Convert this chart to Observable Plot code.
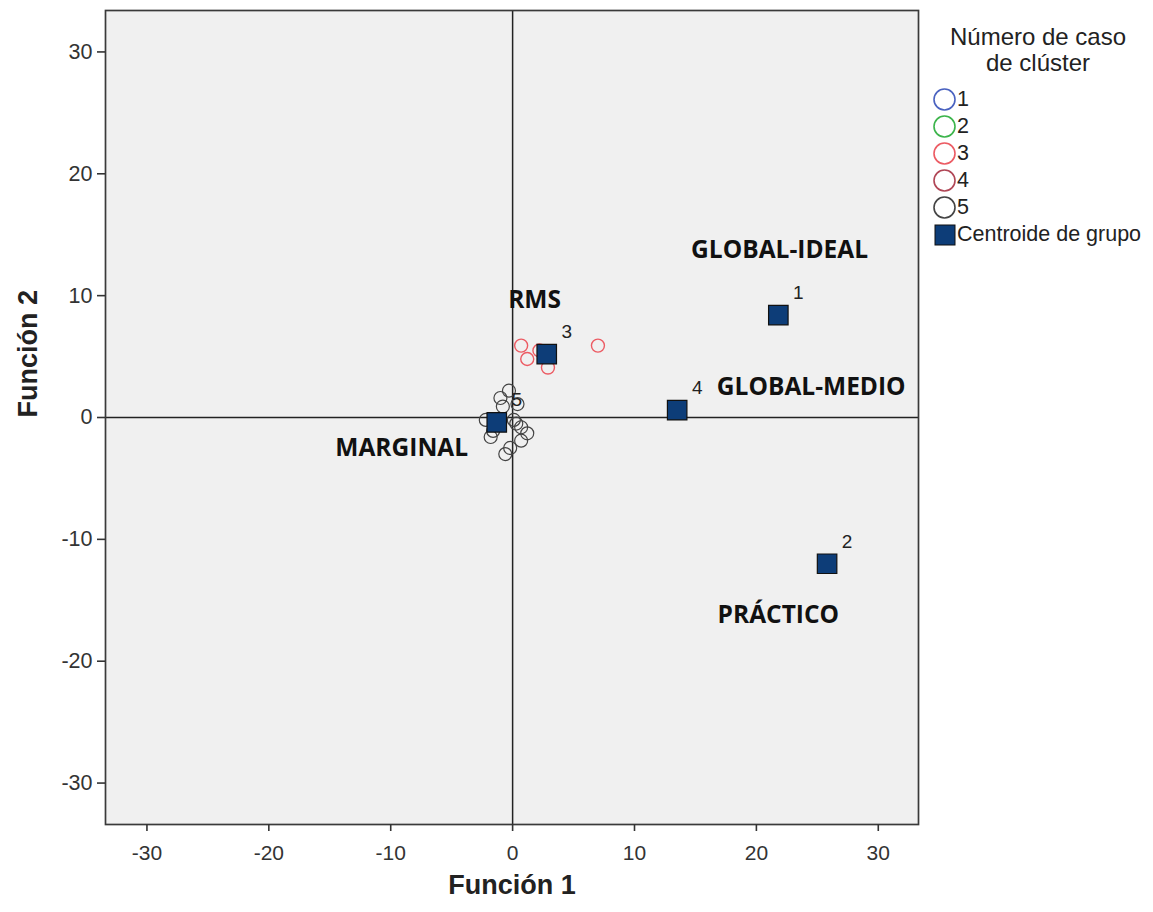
<!DOCTYPE html>
<html>
<head>
<meta charset="utf-8">
<script src="https://cdn.jsdelivr.net/npm/d3@7"></script>
<script src="https://cdn.jsdelivr.net/npm/@observablehq/plot@0.6"></script>
<style>
  body { margin: 0; background: white; }
  #wrap { position: relative; width: 1153px; height: 912px; }
  #legend { position: absolute; left: 932px; top: 24px; width: 221px; font-family: "Liberation Sans", Arial, sans-serif; color: #222; }
  #legend .title { text-align: center; font-size: 24px; line-height: 26px; width: 212px; }
  #legend .item { display: flex; align-items: center; height: 27px; font-size: 21.5px; white-space: nowrap; }
  #legend svg { margin-right: 0px; flex: none; }
</style>
</head>
<body>
<div id="wrap"><div id="legend"></div></div>
<script>
// Cluster 3 cases (red)
const c3x = [0.7, 1.2, 2.2, 2.9, 7.0];
const c3y = [5.9, 4.8, 5.5, 4.1, 5.9];
// Cluster 5 cases (gray)
const c5x = [-1.0, -0.3, 0.4, 0.1, 0.7, 1.2, 0.7, -0.2, -0.6, -1.8, -2.2, -1.6, -0.8, 0.3];
const c5y = [1.6, 2.2, 1.1, -0.2, -0.8, -1.3, -1.9, -2.5, -3.0, -1.6, -0.2, -1.1, 0.9, -0.5];
// Group centroids
const centId = ["1", "2", "3", "4", "5"];
const centX = [21.8, 25.8, 2.8, 13.5, -1.3];
const centY = [8.4, -12.0, 5.2, 0.6, -0.4];
// Group names
const groupName = ["GLOBAL-IDEAL", "PRÁCTICO", "RMS", "GLOBAL-MEDIO", "MARGINAL"];
const nameX = [21.9, 21.8, 1.8, 24.5, -9.1];
const nameY = [13.7, -16.2, 9.6, 2.5, -2.5];
// Ticks
const ticks = [-30, -20, -10, 0, 10, 20, 30];
// Legend
const legendLabels = ["1", "2", "3", "4", "5"];
const legendColors = ["#4a62c0", "#3cb44b", "#ec5b63", "#b04656", "#444444"];

const c3 = c3x.map((x, i) => ({x, y: c3y[i]}));
const c5 = c5x.map((x, i) => ({x, y: c5y[i]}));
const cent = centId.map((id, i) => ({id, x: centX[i], y: centY[i]}));
const names = groupName.map((t, i) => ({t, x: nameX[i], y: nameY[i]}));

const plot = Plot.plot({
  width: 1153,
  height: 912,
  marginLeft: 105,
  marginRight: 235,
  marginTop: 10,
  marginBottom: 88,
  style: {fontFamily: "'Liberation Sans', Arial, sans-serif", fontSize: "21px", color: "#333", background: "transparent"},
  x: {domain: [-33.4, 33.3], ticks: ticks, label: null},
  y: {domain: [-33.4, 33.4], ticks: ticks, label: null},
  marks: [
    Plot.frame({fill: "#f0f0f0"}),
    Plot.ruleX([0], {stroke: "#222", strokeWidth: 1.5}),
    Plot.ruleY([0], {stroke: "#222", strokeWidth: 1.5}),
    Plot.frame({stroke: "#3a3a3a", strokeWidth: 1.7}),
    Plot.axisX({ticks: ticks, tickFormat: d => String(d), tickSize: 7, tickPadding: 14, stroke: "#333", strokeWidth: 1.6, fontSize: 21, fill: "#333", label: null}),
    Plot.axisY({ticks: ticks, tickFormat: d => String(d), tickSize: 8, tickPadding: 5, stroke: "#333", strokeWidth: 1.6, fontSize: 21.5, fill: "#333", label: null}),
    Plot.dot(c5, {x: "x", y: "y", r: 6.5, stroke: "#444", strokeWidth: 1.2, fill: "none"}),
    Plot.dot(c3, {x: "x", y: "y", r: 6.5, stroke: "#ec5b63", strokeWidth: 1.4, fill: "none"}),
    Plot.dot(cent, {x: "x", y: "y", symbol: "square", r: 11, fill: "#0d3d78", stroke: "#111", strokeWidth: 1.2}),
    Plot.text(cent, {x: "x", y: "y", text: "id", dx: 20, dy: -22, fontSize: 19, fill: "#222"}),
    Plot.text(names, {x: "x", y: "y", text: "t", fontSize: 24.5, fontWeight: "bold", fill: "#111", fontFamily: "'Open Sans', sans-serif"}),
    Plot.text(["Función 1"], {frameAnchor: "bottom", dy: 69, fontSize: 27, fontWeight: "bold", fill: "#222"}),
    Plot.text(["Función 2"], {frameAnchor: "left", dx: -77, rotate: -90, fontSize: 27, fontWeight: "bold", fill: "#222"})
  ]
});
document.getElementById("wrap").prepend(plot);
plot.style.position = "absolute";
plot.style.left = "0px";
plot.style.top = "0px";

const lg = document.getElementById("legend");
lg.innerHTML = `<div class="title">Número de caso<br>de clúster</div><div style="height:10px"></div>` +
  legendLabels.map((l, i) => `<div class="item"><svg width="25" height="25"><circle cx="12.5" cy="12.5" r="10.5" fill="none" stroke="${legendColors[i]}" stroke-width="1.6"/></svg>${l}</div>`).join("") +
  `<div class="item"><svg width="25" height="25"><rect x="3" y="3" width="20" height="20" fill="#0d3d78" stroke="#111" stroke-width="1"/></svg>Centroide de grupo</div>`;
</script>
</body>
</html>
